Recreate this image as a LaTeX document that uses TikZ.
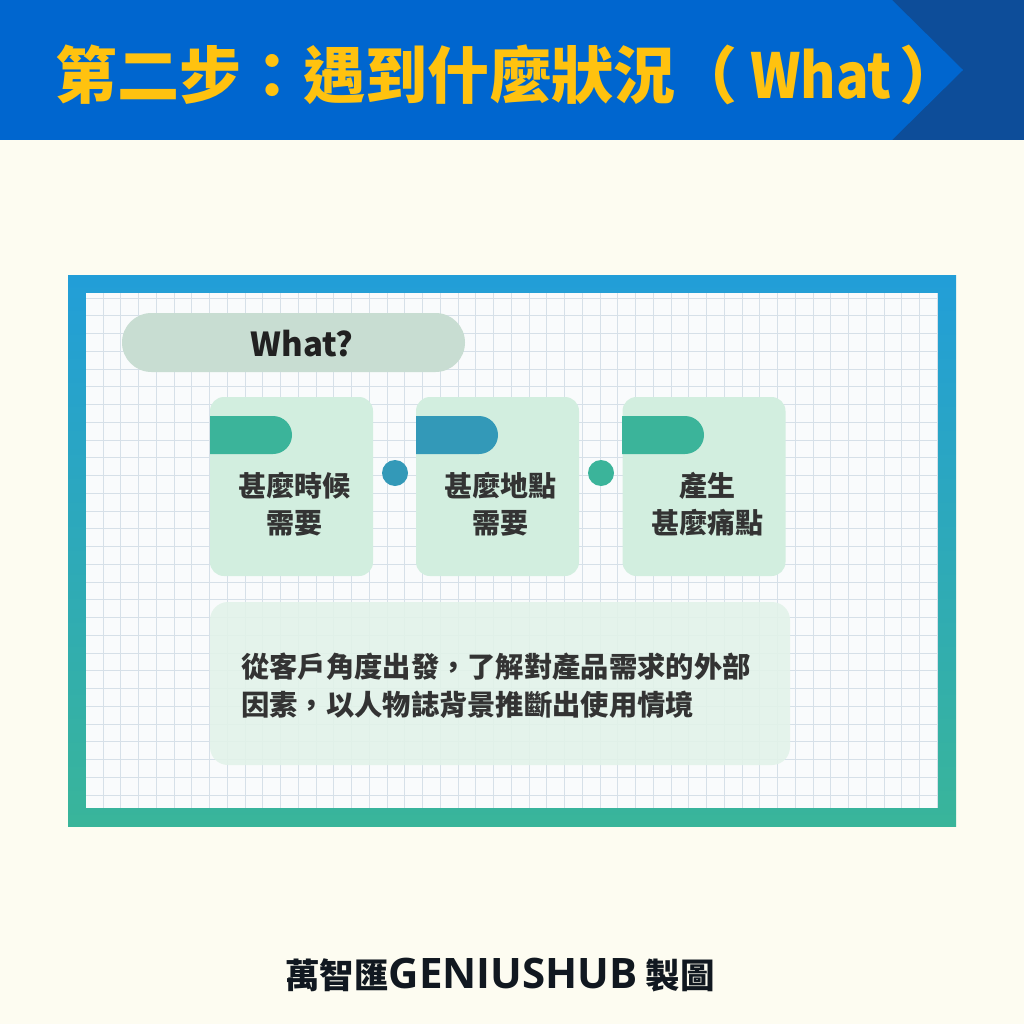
\documentclass[tikz,border=0pt]{standalone}
\usepackage{graphicx}
\usepackage{fontspec}
\setmainfont{Noto Sans CJK TC}
\newfontfamily\latinf{Open Sans}
\definecolor{cream}{HTML}{FDFCF1}
\definecolor{bannerblue}{HTML}{0066CF}
\definecolor{bannerdark}{HTML}{0D4D99}
\definecolor{titleyellow}{HTML}{FFC20F}
\definecolor{frametop}{HTML}{229ED8}
\definecolor{framebot}{HTML}{39B59A}
\definecolor{paper}{HTML}{F9FBFC}
\definecolor{gridc}{HTML}{D6E0E8}
\definecolor{pillc}{HTML}{C8DDD2}
\definecolor{cardc}{HTML}{D2EEDF}
\definecolor{boxc}{HTML}{E2F3E9}
\definecolor{tealg}{HTML}{3BB49A}
\definecolor{tealb}{HTML}{3399B8}
\definecolor{textd}{HTML}{333333}
\definecolor{footc}{HTML}{111820}
\tikzset{
  cardbox/.style={fill=cardc, draw=none, rounded corners=14, minimum width=163, minimum height=179, inner sep=0},
  cardtext/.style={text=textd, font=\fontsize{28}{37}\selectfont\bfseries, align=center, inner sep=0},
  dotc/.style={circle, minimum size=26, inner sep=0, draw=none},
}
\begin{document}
\begin{tikzpicture}[x=1pt,y=-1pt]
\useasboundingbox (0,0) rectangle (1024,1024);
\fill[cream] (0,0) rectangle (1024,1024);
% banner
\fill[bannerdark] (0,0) rectangle (1024,140);
\fill[bannerblue] (0,0) -- (892,0) -- (963,70) -- (892,140) -- (0,140) -- cycle;
\node[anchor=west, text=titleyellow, font=\fontsize{62}{64}\selectfont\bfseries, inner sep=0] (title) at (55,75) {第二步：遇到什麼狀況（\hspace{13pt}\scalebox{0.87}[1]{What}\hspace{8pt}）};
% frame
\shade[top color=frametop, bottom color=framebot] (68,275) rectangle (956,826);
\fill[paper] (86,293) rectangle (938,808);
\begin{scope}
\clip (86,293) rectangle (938,808);
\foreach \i in {0,...,48} {\draw[gridc, line width=0.8] ({103+17.75*\i},293) -- ({103+17.75*\i},808);}
\foreach \j in {0,...,30} {\draw[gridc, line width=0.8] (86,{298+17.75*\j}) -- (938,{298+17.75*\j});}
\end{scope}
% pill
\node[fill=pillc, rounded corners=29.5, minimum width=343, minimum height=59, inner sep=0] (pill) at (293.5,342.5) {};
\node[text=black!87, font=\fontsize{33}{36}\selectfont\bfseries, inner sep=0] (whatq) at (302,344) {What?};
% cards
\node[cardbox] (c1) at (291.5,486.5) {};
\node[cardbox] (c2) at (497.5,486.5) {};
\node[cardbox] (c3) at (704,486.5) {};
\fill[tealg] (210,416) -- (273,416) arc[start angle=-90,end angle=90,radius=19] -- (210,454) -- cycle;
\fill[tealb] (416,416) -- (479,416) arc[start angle=-90,end angle=90,radius=19] -- (416,454) -- cycle;
\fill[tealg] (622,416) -- (685,416) arc[start angle=-90,end angle=90,radius=19] -- (622,454) -- cycle;
\node[dotc, fill=tealb] (d1) at (395,473) {};
\node[dotc, fill=tealg] (d2) at (601,473) {};
\node[cardtext] (t1) at (294.5,504.5) {甚麼時候\\需要};
\node[cardtext] (t2) at (500.5,504.5) {甚麼地點\\需要};
\node[cardtext] (t3) at (707,504.5) {產生\\甚麼痛點};
% bottom box
\node[fill=boxc, fill opacity=0.88, rounded corners=18, minimum width=580, minimum height=163, inner sep=0] (box) at (500,683.5) {};
\node[anchor=west, text=textd, font=\fontsize{28.3}{38}\selectfont\bfseries, align=left, inner sep=0] (desc) at (241,686) {從客戶角度出發，了解對產品需求的外部\\因素，以人物誌背景推斷出使用情境};
% footer
\node[text=footc, font=\fontsize{34.5}{36}\selectfont\bfseries, inner sep=0] (foot) at (500,975) {萬智匯{\latinf\fontsize{42}{42}\selectfont\bfseries GENIUSHUB} 製圖};
\end{tikzpicture}
\end{document}
